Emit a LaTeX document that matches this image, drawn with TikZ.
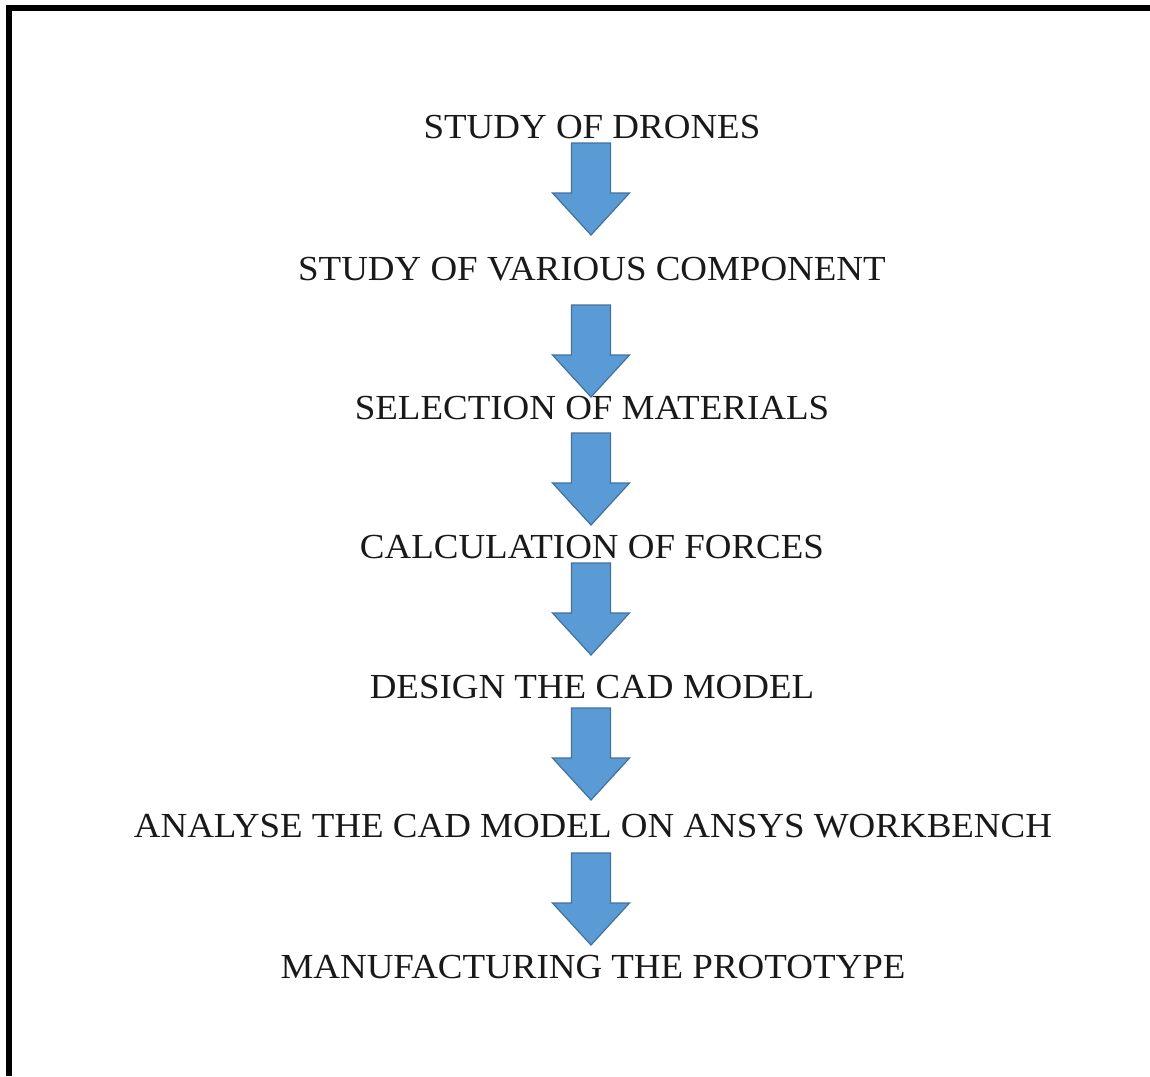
\documentclass[tikz,border=0pt]{standalone}
\usepackage{fontspec}
\setmainfont[FakeStretch=1.05]{Liberation Serif}
\definecolor{arrfill}{HTML}{5B9BD5}
\definecolor{arrline}{HTML}{41719C}
\tikzset{
  lbl/.style={anchor=base, inner sep=0pt, font=\fontsize{17.6pt}{21pt}\selectfont, text=black!90},
  arrowstyle/.style={fill=arrfill, draw=arrline, line width=0.6pt, line join=miter},
  downarr/.pic={\filldraw[arrowstyle] (-19.5,0) -- (19.5,0) -- (19.5,50) -- (38.5,50) -- (0,92) -- (-38.5,50) -- (-19.5,50) -- cycle;}
}
\begin{document}
\begin{tikzpicture}[x=0.5pt,y=-0.5pt]
\useasboundingbox (0,0) rectangle (1150,1076);
\fill[white] (0,0) rectangle (1150,1076);
\draw[line width=2.7pt, line join=miter] (1150,8) -- (9,8) -- (9,1076);
\node[lbl] (t1) at (592,138) {STUDY OF DRONES};
\node[lbl] (t2) at (592,280) {STUDY OF VARIOUS COMPONENT};
\node[lbl] (t3) at (592,419) {SELECTION OF MATERIALS};
\node[lbl] (t4) at (592,558) {CALCULATION OF FORCES};
\node[lbl] (t5) at (592,698) {DESIGN THE CAD MODEL};
\node[lbl] (t6) at (593,837) {ANALYSE THE CAD MODEL ON ANSYS WORKBENCH};
\node[lbl] (t7) at (593,978) {MANUFACTURING THE PROTOTYPE};
\pic (a1) at (591,143) {downarr};
\pic (a2) at (591,305) {downarr};
\pic (a3) at (591,433) {downarr};
\pic (a4) at (591,563) {downarr};
\pic (a5) at (591,708) {downarr};
\pic (a6) at (591,853) {downarr};
\end{tikzpicture}
\end{document}
